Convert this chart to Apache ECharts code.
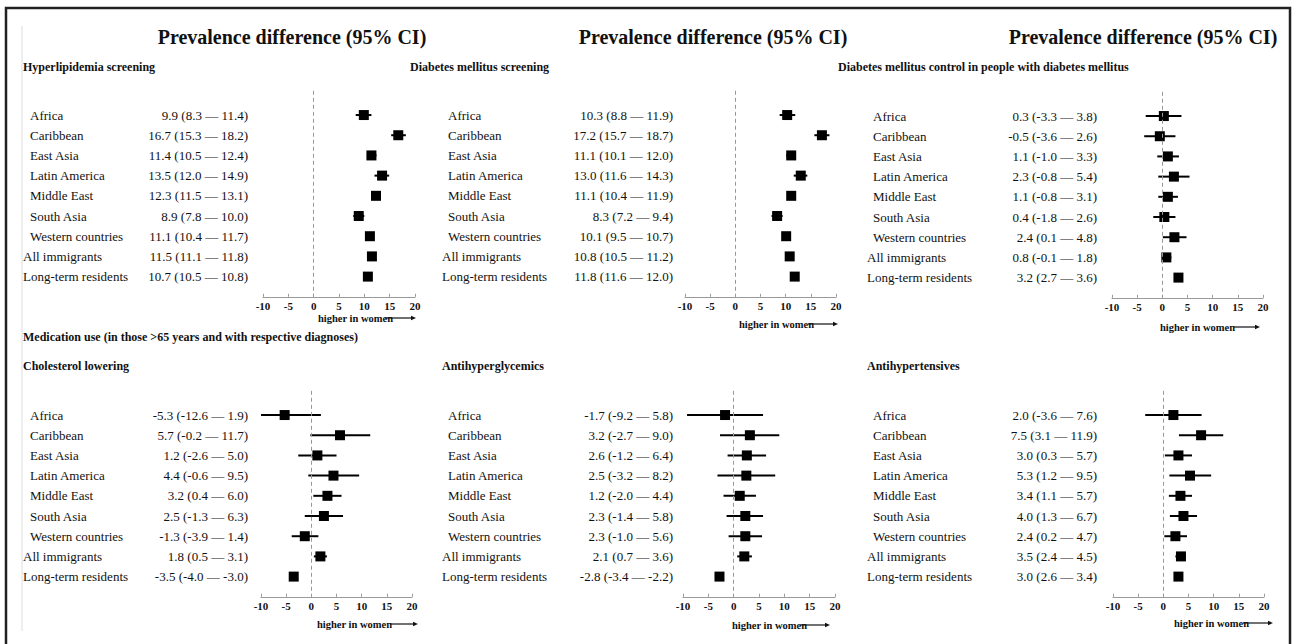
<!DOCTYPE html>
<html><head><meta charset="utf-8">
<script src="https://cdn.jsdelivr.net/npm/echarts@6/dist/echarts.min.js"></script>
<style>html,body{margin:0;padding:0;background:#fff}#c{width:1292px;height:644px}</style>
</head><body><div id="c"></div>
<script>
const regions = ['Africa','Caribbean','East Asia','Latin America','Middle East','South Asia','Western countries','All immigrants','Long-term residents'];
const indented = [true,true,true,true,true,true,true,false,false];
const xTicks = [-10,-5,0,5,10,15,20];

const p1Est = [9.9,16.7,11.4,13.5,12.3,8.9,11.1,11.5,10.7];
const p1Lo  = [8.3,15.3,10.5,12.0,11.5,7.8,10.4,11.1,10.5];
const p1Hi  = [11.4,18.2,12.4,14.9,13.1,10.0,11.7,11.8,10.8];

const p2Est = [10.3,17.2,11.1,13.0,11.1,8.3,10.1,10.8,11.8];
const p2Lo  = [8.8,15.7,10.1,11.6,10.4,7.2,9.5,10.5,11.6];
const p2Hi  = [11.9,18.7,12.0,14.3,11.9,9.4,10.7,11.2,12.0];

const p3Est = [0.3,-0.5,1.1,2.3,1.1,0.4,2.4,0.8,3.2];
const p3Lo  = [-3.3,-3.6,-1.0,-0.8,-0.8,-1.8,0.1,-0.1,2.7];
const p3Hi  = [3.8,2.6,3.3,5.4,3.1,2.6,4.8,1.8,3.6];

const p4Est = [-5.3,5.7,1.2,4.4,3.2,2.5,-1.3,1.8,-3.5];
const p4Lo  = [-12.6,-0.2,-2.6,-0.6,0.4,-1.3,-3.9,0.5,-4.0];
const p4Hi  = [1.9,11.7,5.0,9.5,6.0,6.3,1.4,3.1,-3.0];

const p5Est = [-1.7,3.2,2.6,2.5,1.2,2.3,2.3,2.1,-2.8];
const p5Lo  = [-9.2,-2.7,-1.2,-3.2,-2.0,-1.4,-1.0,0.7,-3.4];
const p5Hi  = [5.8,9.0,6.4,8.2,4.4,5.8,5.6,3.6,-2.2];

const p6Est = [2.0,7.5,3.0,5.3,3.4,4.0,2.4,3.5,3.0];
const p6Lo  = [-3.6,3.1,0.3,1.2,1.1,1.3,0.2,2.4,2.6];
const p6Hi  = [7.6,11.9,5.7,9.5,5.7,6.7,4.7,4.5,3.4];

const panelTitles = ['Hyperlipidemia screening','Diabetes mellitus screening','Diabetes mellitus control in people with diabetes mellitus','Cholesterol lowering','Antihyperglycemics','Antihypertensives'];
const mainTitle = 'Prevalence difference (95% CI)';
const sectionTitle = 'Medication use (in those >65 years and with respective diagnoses)';
const axisNote = 'higher in women';

const SERIF = '"Liberation Serif","DejaVu Serif",serif';
const panels = [
  {est:p1Est, lo:p1Lo, hi:p1Hi, left:263, width:152, top:90.8, nameX:30, name0X:23, valX:248, note:[318,318,385,416]},
  {est:p2Est, lo:p2Lo, hi:p2Hi, left:685, width:151, top:90.8, nameX:448, name0X:442, valX:673, note:[739,324,808,838]},
  {est:p3Est, lo:p3Lo, hi:p3Hi, left:1112, width:151, top:91.8, nameX:873, name0X:867, valX:1097, note:[1160,327,1234,1260]},
  {est:p4Est, lo:p4Lo, hi:p4Hi, left:261, width:151, top:390.8, nameX:30, name0X:23, valX:248, note:[317,624,390,418]},
  {est:p5Est, lo:p5Lo, hi:p5Hi, left:683, width:152, top:390.8, nameX:448, name0X:442, valX:673, note:[732,625,800,830]},
  {est:p6Est, lo:p6Lo, hi:p6Hi, left:1113, width:151, top:390.8, nameX:873, name0X:867, valX:1097, note:[1174,623,1243,1273]}
];
const fmt = v => v.toFixed(1);

const grids=[], xAxes=[], yAxes=[], series=[], graphics=[];
panels.forEach((p, k) => {
  grids.push({left:p.left, width:p.width, top:p.top, height:206});
  xAxes.push({gridIndex:k, type:'value', min:-10, max:20, interval:5, position:'bottom',
    axisLine:{show:true, onZero:false, lineStyle:{color:'#999', width:1}},
    axisTick:{show:true, inside:true, length:3, lineStyle:{color:'#999'}},
    axisLabel:{color:'#111', fontFamily:SERIF, fontWeight:'bold', fontSize:11, margin:4},
    splitLine:{show:false}});
  yAxes.push({gridIndex:k, type:'value', min:-1.2, max:9, inverse:true, show:false});
  // CI whiskers
  series.push({type:'custom', xAxisIndex:k, yAxisIndex:k, encode:{x:[1,2], y:0}, silent:true,
    data: regions.map((r,i)=>[i, p.lo[i], p.hi[i]]),
    renderItem:(params, api)=>{
      const i = api.value(0);
      const a = api.coord([Math.max(api.value(1), -10), i]);
      const b = api.coord([Math.min(api.value(2), 20), i]);
      return {type:'line', shape:{x1:a[0], y1:a[1], x2:b[0], y2:b[1]}, style:{stroke:'#000', lineWidth:2}};
    }});
  // point estimates
  series.push({type:'scatter', xAxisIndex:k, yAxisIndex:k, symbol:'rect', symbolSize:10, silent:true,
    itemStyle:{color:'#000', opacity:1},
    data: regions.map((r,i)=>[p.est[i], i]),
    markLine:{silent:true, symbol:['none','none'], label:{show:false},
      lineStyle:{color:'#999', type:[4,3], width:1}, data:[{xAxis:0}]}});
  // row text
  series.push({type:'custom', xAxisIndex:k, yAxisIndex:k, encode:{y:0}, silent:true,
    data: regions.map((r,i)=>[i]),
    renderItem:(params, api)=>{
      const i = api.value(0);
      const y = api.coord([0, i])[1];
      return {type:'group', children:[
        {type:'text', x: indented[i] ? p.nameX : p.name0X, y:y,
          style:{text:regions[i], fill:'#111', font:'13px '+SERIF, textAlign:'left', textVerticalAlign:'middle'}},
        {type:'text', x: p.valX, y:y,
          style:{text: fmt(p.est[i])+' ('+fmt(p.lo[i])+' — '+fmt(p.hi[i])+')', fill:'#111', font:'13px '+SERIF, textAlign:'right', textVerticalAlign:'middle'}}
      ]};
    }});
  // axis note with arrow
  const n = p.note;
  graphics.push({type:'text', x:n[0], y:n[1], style:{text:axisNote, fill:'#111', font:'bold 10.5px '+SERIF, textAlign:'left', textVerticalAlign:'middle'}});
  graphics.push({type:'line', shape:{x1:n[2], y1:n[1], x2:n[3]-4, y2:n[1]}, style:{stroke:'#111', lineWidth:1.2}});
  graphics.push({type:'polygon', shape:{points:[[n[3],n[1]],[n[3]-5,n[1]-2.2],[n[3]-5,n[1]+2.2]]}, style:{fill:'#111'}});
});

// frame
graphics.push({type:'rect', shape:{x:6, y:8, width:1284, height:660}, style:{fill:'none', stroke:'#222', lineWidth:2.5}});
graphics.push({type:'line', shape:{x1:22, y1:26, x2:22, y2:631}, style:{stroke:'#ddd', lineWidth:1}});
// titles
[292, 713, 1143].forEach(cx => {
  graphics.push({type:'text', x:cx, y:37, style:{text:mainTitle, fill:'#111', font:'bold 20px '+SERIF, textAlign:'center', textVerticalAlign:'middle'}});
});
const subPos = [[23,67],[410,67],[838,67],[23,366],[442,366],[867,366]];
subPos.forEach((s,k)=>{
  graphics.push({type:'text', x:s[0], y:s[1], style:{text:panelTitles[k], fill:'#111', font:'bold 12px '+SERIF, textAlign:'left', textVerticalAlign:'middle'}});
});
graphics.push({type:'text', x:23, y:337, style:{text:sectionTitle, fill:'#111', font:'bold 12px '+SERIF, textAlign:'left', textVerticalAlign:'middle'}});

const chart = echarts.init(document.getElementById('c'), null, {renderer:'svg'});
chart.setOption({animation:false, backgroundColor:'#fff', grid:grids, xAxis:xAxes, yAxis:yAxes, series:series, graphic:graphics});
</script></body></html>
